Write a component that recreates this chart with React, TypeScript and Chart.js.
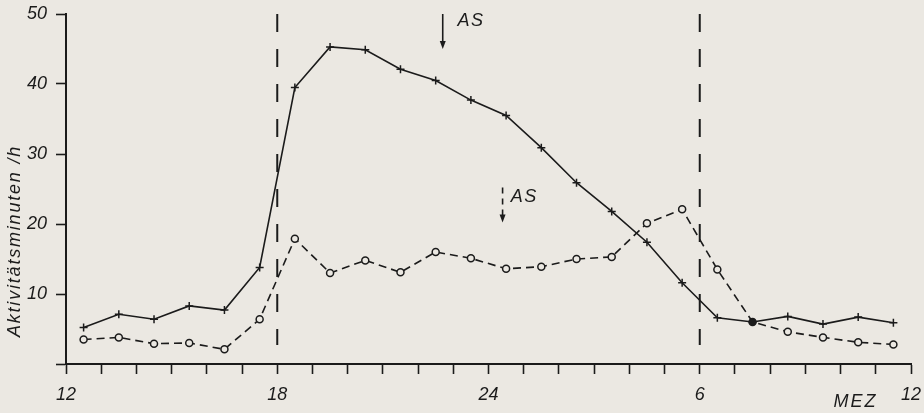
import React, { useEffect, useRef } from "react";
import { Chart, registerables } from "chart.js";

Chart.register(...registerables);

// ---- data (hours from 12:00 of day 1; 24..36 = 0..12 of next day) ----
const HOURS = [12.5, 13.5, 14.5, 15.5, 16.5, 17.5, 18.5, 19.5, 20.5, 21.5, 22.5, 23.5, 24.5, 25.5, 26.5, 27.5, 28.5, 29.5, 30.5, 31.5, 32.5, 33.5, 34.5, 35.5];
const SOLID = [5.2, 7.1, 6.4, 8.3, 7.7, 13.8, 39.5, 45.3, 44.9, 42.1, 40.5, 37.7, 35.5, 30.9, 25.9, 21.8, 17.4, 11.6, 6.6, 6.0, 6.8, 5.7, 6.7, 5.9];
const DASHED = [3.5, 3.8, 2.9, 3.0, 2.1, 6.4, 17.9, 13.0, 14.8, 13.1, 16.0, 15.1, 13.6, 13.9, 15.0, 15.3, 20.1, 22.1, 13.5, 6.0, 4.6, 3.8, 3.1, 2.8];
const DASHED_FILLED = [false, false, false, false, false, false, false, false, false, false, false, false, false, false, false, false, false, false, false, true, false, false, false, false];

const X_LABEL_HOURS = [12, 18, 24, 30, 36];
const X_LABEL_TEXT = ["12", "18", "24", "6", "12"];
const Y_TICKS = [10, 20, 30, 40, 50];

const MARK_HOURS = [18, 30];
const MARK_BOTTOM = 2.7;

// arrows: [hour, yFrom, yTo]
const ARROW_SOLID = [22.7, 50, 45.0];
const ARROW_DASHED = [24.4, 25.2, 20.2];
// labels: [hour, y]
const AS_SOLID = [23.12, 49.0];
const AS_DASHED = [24.63, 23.9];
const MEZ_HOUR = 33.8;

const Y_TITLE = "Aktivitätsminuten /h";
const X_UNIT = "MEZ";

const INK = "#1b1b1b";
const BG = "#ebe8e2";
const FONT = "'Liberation Sans', Arial, sans-serif";

function arrowHead(ctx: CanvasRenderingContext2D, x: number, y: number) {
  ctx.beginPath();
  ctx.moveTo(x, y);
  ctx.lineTo(x - 3, y - 8);
  ctx.lineTo(x + 3, y - 8);
  ctx.closePath();
  ctx.fill();
}

const annotPlugin = {
  id: "annot",
  afterDatasetsDraw(chart: any) {
    const { ctx } = chart;
    const x = chart.scales.x;
    const y = chart.scales.y;
    ctx.save();
    ctx.strokeStyle = INK;
    ctx.fillStyle = INK;
    // vertical dashed marker lines
    ctx.lineWidth = 2;
    ctx.setLineDash([18, 17]);
    for (const h of MARK_HOURS) {
      const px = x.getPixelForValue(h);
      ctx.beginPath();
      ctx.moveTo(px, y.getPixelForValue(50));
      ctx.lineTo(px, y.getPixelForValue(MARK_BOTTOM));
      ctx.stroke();
    }
    // solid arrow
    ctx.lineWidth = 1.6;
    ctx.setLineDash([]);
    {
      const px = x.getPixelForValue(ARROW_SOLID[0]);
      const y1 = y.getPixelForValue(ARROW_SOLID[1]);
      const y2 = y.getPixelForValue(ARROW_SOLID[2]);
      ctx.beginPath();
      ctx.moveTo(px, y1);
      ctx.lineTo(px, y2 - 5);
      ctx.stroke();
      arrowHead(ctx, px, y2);
    }
    // dashed arrow
    {
      const px = x.getPixelForValue(ARROW_DASHED[0]);
      const y1 = y.getPixelForValue(ARROW_DASHED[1]);
      const y2 = y.getPixelForValue(ARROW_DASHED[2]);
      ctx.setLineDash([6, 5]);
      ctx.beginPath();
      ctx.moveTo(px, y1);
      ctx.lineTo(px, y2 - 5);
      ctx.stroke();
      ctx.setLineDash([]);
      arrowHead(ctx, px, y2);
    }
    // texts
    ctx.font = `italic 18px ${FONT}`;
    ctx.textAlign = "left";
    ctx.textBaseline = "middle";
    try { (ctx as any).letterSpacing = "1.5px"; } catch (e) {}
    ctx.fillText("AS", x.getPixelForValue(AS_SOLID[0]), y.getPixelForValue(AS_SOLID[1]));
    ctx.fillText("AS", x.getPixelForValue(AS_DASHED[0]), y.getPixelForValue(AS_DASHED[1]));
    try { (ctx as any).letterSpacing = "2px"; } catch (e) {}
    ctx.fillText(X_UNIT, x.getPixelForValue(MEZ_HOUR), x.top + 38);
    // y title
    try { (ctx as any).letterSpacing = "1.8px"; } catch (e) {}
    ctx.translate(15, 241);
    ctx.rotate(-Math.PI / 2);
    ctx.textAlign = "center";
    ctx.fillText(Y_TITLE, 0, 0);
    ctx.restore();
  },
};

export default function App() {
  const ref = useRef<HTMLCanvasElement | null>(null);
  useEffect(() => {
    if (!ref.current) return;
    const solidData = HOURS.map((h, i) => ({ x: h, y: SOLID[i] }));
    const dashedData = HOURS.map((h, i) => ({ x: h, y: DASHED[i] }));
    const chart = new Chart(ref.current, {
      type: "line",
      data: {
        datasets: [
          {
            data: dashedData,
            borderColor: INK,
            borderWidth: 1.6,
            borderDash: [8, 5],
            pointStyle: "circle",
            pointRadius: 3.5,
            pointBorderWidth: 1.5,
            pointBorderColor: INK,
            pointBackgroundColor: DASHED_FILLED.map((f) => (f ? INK : BG)),
            tension: 0,
            clip: false as any,
          },
          {
            data: solidData,
            borderColor: INK,
            borderWidth: 1.6,
            pointStyle: "cross",
            pointRadius: 4,
            pointBorderWidth: 1.5,
            pointBorderColor: INK,
            tension: 0,
            clip: false as any,
          },
        ],
      },
      options: {
        animation: false,
        responsive: true,
        maintainAspectRatio: false,
        layout: { padding: { top: 14, right: 13, left: 0, bottom: 0 } },
        plugins: { legend: { display: false }, tooltip: { enabled: false } },
        scales: {
          x: {
            type: "linear",
            min: 12,
            max: 36,
            afterFit: (s: any) => {
              s.height = 49;
              s.paddingLeft = 0;
              s.paddingRight = 0;
            },
            afterBuildTicks: (s: any) => {
              const t = [];
              for (let h = 12; h <= 36; h++) t.push({ value: h });
              s.ticks = t;
            },
            ticks: {
              autoSkip: false,
              maxRotation: 0,
              padding: 10,
              color: INK,
              font: { family: FONT, size: 18, style: "italic" },
              callback: (v: any) => {
                const i = X_LABEL_HOURS.indexOf(Number(v));
                return i >= 0 ? X_LABEL_TEXT[i] : "";
              },
            },
            grid: { drawOnChartArea: false, drawTicks: true, tickLength: 10, tickWidth: 1.6, tickColor: INK },
            border: { display: true, color: INK, width: 2 },
          },
          y: {
            type: "linear",
            min: 0,
            max: 50,
            afterFit: (s: any) => {
              s.width = 66;
              s.paddingTop = 0;
              s.paddingBottom = 0;
            },
            afterBuildTicks: (s: any) => {
              s.ticks = [0, ...Y_TICKS].map((v) => ({ value: v }));
            },
            ticks: {
              padding: 9,
              color: INK,
              font: { family: FONT, size: 18, style: "italic" },
              callback: (v: any) => (Y_TICKS.includes(Number(v)) ? String(v) : ""),
            },
            grid: { drawOnChartArea: false, drawTicks: true, tickLength: 10, tickWidth: 1.6, tickColor: INK },
            border: { display: true, color: INK, width: 2 },
          },
        },
      },
      plugins: [annotPlugin],
    });
    return () => chart.destroy();
  }, []);
  return (
    <div style={{ position: "fixed", left: 0, top: 0, width: 924, height: 413, background: BG }}>
      <canvas ref={ref} />
    </div>
  );
}
